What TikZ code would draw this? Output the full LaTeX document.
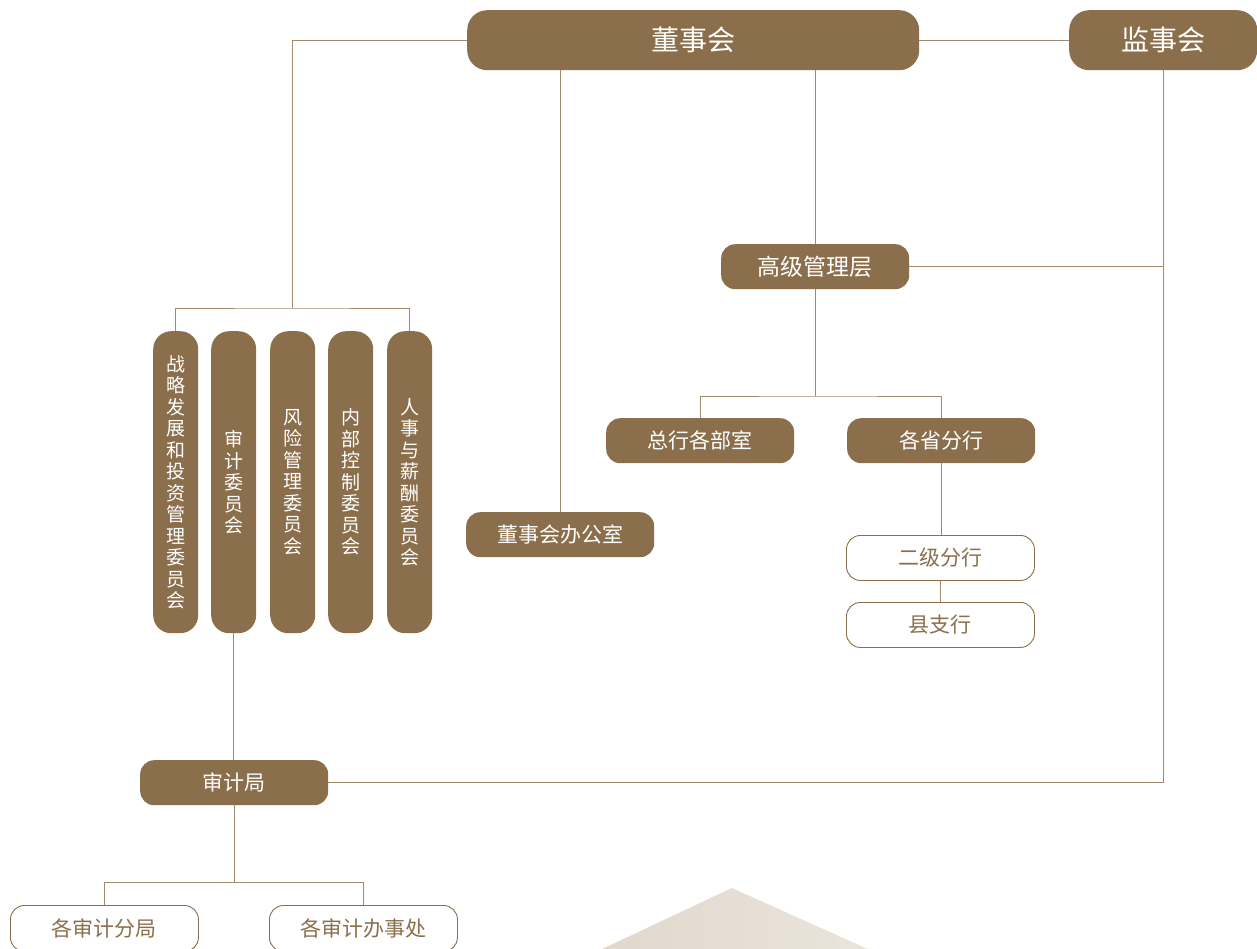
\documentclass[tikz,border=0pt]{standalone}
\usepackage{fontspec}
\setmainfont{Noto Sans CJK SC}
\usetikzlibrary{positioning}
\definecolor{brown}{HTML}{8B6F4C}
\definecolor{lin}{HTML}{A08A6E}
\definecolor{tri1}{HTML}{E1D8CC}
\definecolor{tri2}{HTML}{EAE4DC}
\begin{document}
\begin{tikzpicture}[x=1pt,y=-1pt,
  fbox/.style={fill=brown,text=white,rounded corners=14pt,inner sep=0pt,anchor=north west,font=\fontsize{21}{24}\selectfont},
  obox/.style={draw=brown,line width=0.9pt,fill=white,text=brown,rounded corners=14pt,inner sep=0pt,anchor=north west,font=\fontsize{21}{24}\selectfont},
  vbox/.style={fill=brown,text=white,rounded corners=18pt,inner sep=0pt,anchor=north west,minimum width=45pt,minimum height=302pt,align=center,font=\fontsize{19}{21.5}\selectfont},
  conn/.style={draw=lin,line width=0.8pt}]
\useasboundingbox (0,0) rectangle (1257,948);
% background triangle
\shade[left color=tri1,right color=tri2] (600,950) -- (732,888) -- (870,950) -- cycle;
% nodes
\node[fbox,minimum width=452pt,minimum height=60pt,rounded corners=20pt,font=\fontsize{28}{30}\selectfont] (board) at (467,10) {董事会};
\node[fbox,minimum width=188pt,minimum height=60pt,rounded corners=20pt,font=\fontsize{28}{30}\selectfont] (sup) at (1069,10) {监事会};
\node[fbox,minimum width=188pt,minimum height=45pt,font=\fontsize{23}{26}\selectfont] (mgmt) at (721,244) {高级管理层};
\node[fbox,minimum width=188pt,minimum height=45pt] (hq) at (606,418) {总行各部室};
\node[fbox,minimum width=188pt,minimum height=45pt] (prov) at (847,418) {各省分行};
\node[fbox,minimum width=188pt,minimum height=45pt] (office) at (466,512) {董事会办公室};
\node[obox,minimum width=188pt,minimum height=45pt] (sec) at (846,535) {二级分行};
\node[obox,minimum width=188pt,minimum height=45pt] (county) at (846,602) {县支行};
\node[vbox] (c1) at (153,331) {战\\略\\发\\展\\和\\投\\资\\管\\理\\委\\员\\会};
\node[vbox] (c2) at (211,331) {审\\计\\委\\员\\会};
\node[vbox] (c3) at (270,331) {风\\险\\管\\理\\委\\员\\会};
\node[vbox] (c4) at (328,331) {内\\部\\控\\制\\委\\员\\会};
\node[vbox] (c5) at (387,331) {人\\事\\与\\薪\\酬\\委\\员\\会};
\node[fbox,minimum width=188pt,minimum height=45pt] (audit) at (140,760) {审计局};
\node[obox,minimum width=188pt,minimum height=46pt] (ab1) at (10,905) {各审计分局};
\node[obox,minimum width=188pt,minimum height=46pt] (ab2) at (269,905) {各审计办事处};
% connectors
\draw[conn] (board.west) -| (292,308) coordinate (cj);
\draw[conn] (c1.north) |- (cj) -| (c5.north);
\draw[conn] (office.north) -- (office.north |- board.south);
\draw[conn] (mgmt.north) -- (mgmt.north |- board.south);
\draw[conn] (board.east) -- (sup.west);
\draw[conn] (sup.south) |- (audit.east);
\draw[conn] (mgmt.east) -- (mgmt.east -| sup.south);
\coordinate (mj) at (mgmt.south |- 0,396);
\draw[conn] (mgmt.south) -- (mj);
\draw[conn] (hq.north) |- (mj) -| (prov.north);
\draw[conn] (prov.south) -- (prov.south |- sec.north);
\draw[conn] (sec.south) -- (county.north);
\draw[conn] (c2.south) -- (c2.south |- audit.north);
\coordinate (aj) at (audit.south |- 0,882);
\draw[conn] (audit.south) -- (aj);
\draw[conn] (ab1.north) |- (aj) -| (ab2.north);
\end{tikzpicture}
\end{document}
